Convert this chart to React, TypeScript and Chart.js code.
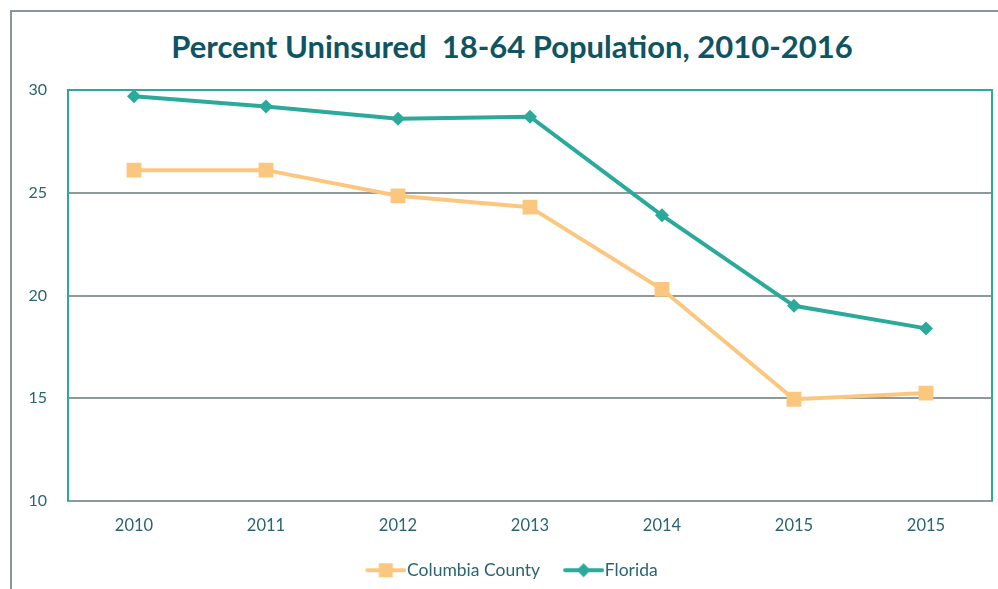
import React, { useEffect, useRef } from "react";
import { Chart, registerables } from "chart.js";

Chart.register(...registerables);

const categories = ["2010", "2011", "2012", "2013", "2014", "2015", "2015"];
const columbiaCounty = [26.1, 26.1, 24.85, 24.3, 20.3, 14.95, 15.25];
const florida = [29.7, 29.2, 28.6, 28.7, 23.9, 19.5, 18.4];
const yTicks = [10, 15, 20, 25, 30];

const TEAL = "#2BAA9B";
const ORANGE = "#FBC77F";
const TEXT = "#2A6470";
const TITLE = "#0F5463";
const GRID = "#8E999C";
const FONT = "Lato, 'Open Sans', sans-serif";

const BOX_W = 38;
const ICON_W = 54;

function legendIcon(color: string, shape: "rect" | "rectRot"): HTMLCanvasElement {
  const c = document.createElement("canvas");
  c.width = ICON_W;
  c.height = 16;
  const g = c.getContext("2d")!;
  const x0 = 15;
  const x1 = 52;
  const xm = (x0 + x1) / 2;
  g.strokeStyle = color;
  g.lineWidth = 4;
  g.lineCap = "round";
  g.beginPath();
  g.moveTo(x0, 8);
  g.lineTo(x1, 8);
  g.stroke();
  g.fillStyle = color;
  g.beginPath();
  if (shape === "rect") {
    g.rect(xm - 7, 1, 14, 14);
  } else {
    g.moveTo(xm, 1);
    g.lineTo(xm + 7, 8);
    g.lineTo(xm, 15);
    g.lineTo(xm - 7, 8);
    g.closePath();
  }
  g.fill();
  return c;
}

const plotBorder = {
  id: "plotBorder",
  afterDraw(chart: any) {
    const { ctx, chartArea } = chart;
    ctx.save();
    ctx.strokeStyle = TEAL;
    ctx.lineWidth = 2;
    ctx.beginPath();
    ctx.moveTo(chartArea.left, chartArea.bottom);
    ctx.lineTo(chartArea.left, chartArea.top);
    ctx.lineTo(chartArea.right, chartArea.top);
    ctx.lineTo(chartArea.right, chartArea.bottom);
    ctx.stroke();
    ctx.restore();
  },
};

export default function App() {
  const ref = useRef<HTMLCanvasElement>(null);
  useEffect(() => {
    const icons = [legendIcon(ORANGE, "rect"), legendIcon(TEAL, "rectRot")];
    const chart = new Chart(ref.current!, {
      type: "line",
      data: {
        labels: categories,
        datasets: [
          {
            label: "Columbia County",
            data: columbiaCounty,
            borderColor: ORANGE,
            backgroundColor: ORANGE,
            borderWidth: 4,
            pointStyle: "rect",
            pointRadius: 10.5,
            pointBorderWidth: 0,
            tension: 0,
          },
          {
            label: "Florida",
            data: florida,
            borderColor: TEAL,
            backgroundColor: TEAL,
            borderWidth: 4,
            pointStyle: "rectRot",
            pointRadius: 7,
            pointBorderWidth: 0,
            tension: 0,
          },
        ],
      },
      options: {
        animation: false,
        responsive: false,
        layout: { autoPadding: false, padding: { top: 90, right: 6, left: 26, bottom: 0 } },
        scales: {
          x: {
            offset: true,
            grid: { display: false, drawTicks: false },
            border: { display: true, color: GRID, width: 2 },
            ticks: { color: TEXT, font: { family: FONT, size: 16.5 }, padding: 15 },
            afterFit(scale: any) {
              scale.height = 42.5;
              scale.paddingLeft = 0;
              scale.paddingRight = 0;
            },
          },
          y: {
            min: 10,
            max: 30,
            afterBuildTicks(scale: any) {
              scale.ticks = yTicks.map((v) => ({ value: v }));
            },
            grid: {
              color: (c: any) => (c.tick && (c.tick.value === 10 || c.tick.value === 30) ? "rgba(0,0,0,0)" : GRID),
              lineWidth: 2,
              drawTicks: false,
            },
            border: { display: false },
            ticks: { color: TEXT, font: { family: FONT, size: 16 }, padding: 21 },
            afterFit(scale: any) {
              scale.width = 42;
              scale.paddingTop = 0;
              scale.paddingBottom = 0;
            },
          },
        },
        plugins: {
          title: { display: false },
          tooltip: { enabled: false },
          legend: {
            position: "bottom",
            labels: {
              usePointStyle: true,
              pointStyleWidth: BOX_W,
              color: TEXT,
              font: { family: FONT, size: 17.5 },
              padding: 18,
              generateLabels: (ch: any) =>
                ch.data.datasets.map((ds: any, i: number) => ({
                  text: ds.label,
                  pointStyle: icons[i],
                  fillStyle: ds.backgroundColor,
                  strokeStyle: ds.borderColor,
                  lineWidth: 0,
                  fontColor: TEXT,
                  hidden: false,
                  datasetIndex: i,
                })),
            },
          },
        },
      },
      plugins: [plotBorder],
    } as any);
    return () => chart.destroy();
  }, []);

  return (
    <div style={{ position: "fixed", left: 0, top: 0, width: 998, height: 589, background: "#fff", overflow: "hidden" }}>
      <div
        style={{
          position: "absolute",
          left: 10,
          top: 10,
          width: 1100,
          height: 700,
          borderLeft: "2px solid #8C959C",
          borderTop: "2px solid #8C959C",
        }}
      />
      <div
        style={{
          position: "absolute",
          left: 0,
          top: 26,
          width: 1024,
          textAlign: "center",
          fontFamily: FONT,
          fontWeight: 700,
          fontSize: 31,
          color: TITLE,
          whiteSpace: "pre",
          lineHeight: "40px",
        }}
      >
        {"Percent Uninsured  18-64 Population, 2010-2016"}
      </div>
      <canvas ref={ref} width={998} height={589} style={{ position: "absolute", left: 0, top: 0 }} />
    </div>
  );
}
